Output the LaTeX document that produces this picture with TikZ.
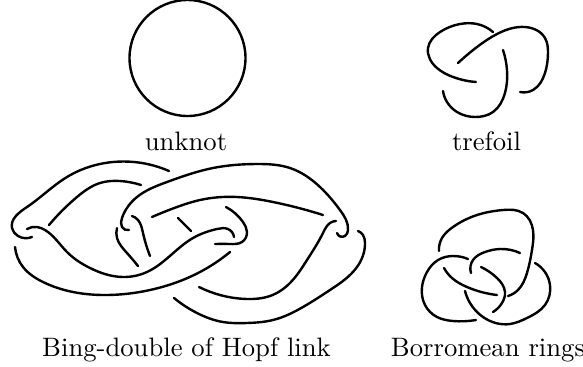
\documentclass[tikz,border=0pt]{standalone}
\usetikzlibrary{hobby}
\tikzset{
  strand/.style={line width=.9pt,line cap=round,use Hobby shortcut},
  caption/.style={anchor=base},
}
\begin{document}
\begin{tikzpicture}[x=.375pt,y=-.375pt]
\useasboundingbox (0,0) rectangle (583,366);
% Unknot
\draw[line width=.9pt] (187.5,58) circle (58);
\node[caption] (unknot) at (186,150) {unknot};

% Trefoil
\draw[strand] (493,32) .. (477,24) .. (460,24) .. (440,32) .. (428,48) .. (437,68) .. (453,77) .. (476,82);
\draw[strand] (458,63) .. (477,47) .. (497,34) .. (525,27) .. (545,38) .. (548,53) .. (545,73) .. (533,90) .. (520,92);
\draw[strand] (503,50) .. (507,70) .. (505,93) .. (493,112) .. (475,117) .. (457,112) .. (447,102) .. (443,91);
\node[caption] (trefoil) at (486.5,150) {trefoil};

% Bing double: left half
\draw[strand] (169,171) .. (113,162) .. (67,177) .. (27,207) .. (12,228) .. (18,236) .. (32,237);
\draw[strand] (49,225) .. (77,197) .. (100,183) .. (120,181) .. (141,185);
\draw[strand] (27,229) .. (37,227) .. (45,230) .. (67,252) .. (90,268) .. (123,277) .. (147,272) .. (193,238) .. (217,229) .. (228,229) .. (234,237);
\draw[strand] (15,247) .. (23,267) .. (43,282) .. (73,292) .. (107,295) .. (150,290) .. (200,272) .. (230,252);
% Bing double: right half
\draw[strand] (129,230) .. (122,227) .. (122,218) .. (137,197) .. (167,182) .. (213,168) .. (257,164) .. (290,168) .. (320,187) .. (340,210) .. (348,230) .. (345,236) .. (337,233);
\draw[strand] (152,217) .. (177,207) .. (200,200) .. (237,197) .. (273,202) .. (323,215);
\draw[strand] (132,216) .. (138,220) .. (143,233) .. (150,256);
\draw[strand] (117,228) .. (117,238) .. (127,253) .. (138,266);
\draw[strand] (178,218) .. (191,231);
\draw[strand] (226,207) .. (243,222) .. (247,232) .. (242,242) .. (230,244) .. (215,244);
\draw[strand] (199,287) .. (220,295) .. (247,299) .. (270,296) .. (290,283) .. (307,260) .. (323,233) .. (330,223) .. (336,221);
\draw[strand] (358,231) .. (363,235) .. (365,243) .. (357,267) .. (330,290) .. (303,307) .. (273,320) .. (247,323) .. (223,322) .. (197,313) .. (174,298);
\node[caption] (bing) at (186.5,356) {Bing-double of Hopf link};

% Borromean rings
\draw[strand] (439,251) .. (442,238) .. (453,227) .. (477,215) .. (503,210) .. (523,213) .. (533,230) .. (532,250) .. (527,273) .. (518,290) .. (508,296);
\draw[strand] (468,259) .. (453,256) .. (438,260) .. (427,272) .. (422,287) .. (425,305) .. (437,317) .. (453,321) .. (476,320);
\draw[strand] (444,268) .. (452,278) .. (467,287) .. (497,295);
\draw[strand] (471,273) .. (473,260) .. (485,252) .. (500,249) .. (520,253);
\draw[strand] (481,267) .. (497,278) .. (505,292) .. (502,303) .. (493,312);
\draw[strand] (465,291) .. (470,303) .. (483,317) .. (510,324) .. (527,318) .. (545,305) .. (550,285) .. (535,263);
\node[caption] (borromean) at (488,356) {Borromean rings};
\end{tikzpicture}
\end{document}
